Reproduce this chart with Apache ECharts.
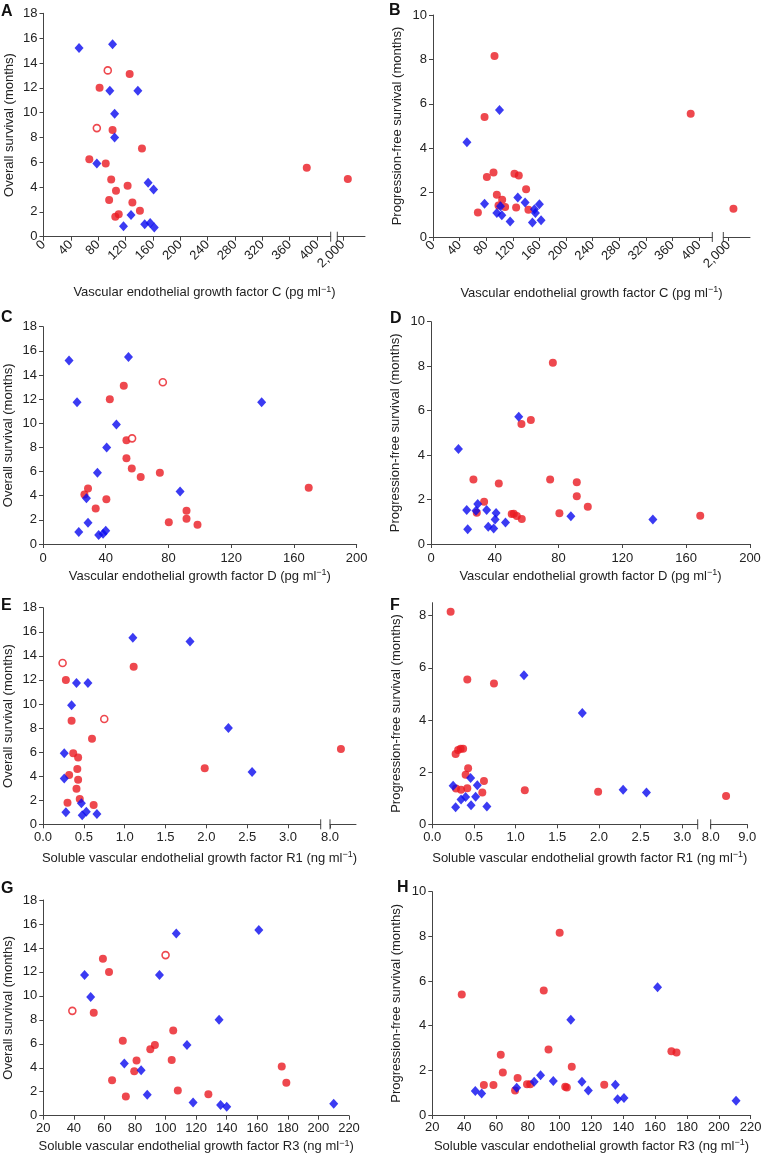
<!DOCTYPE html>
<html>
<head>
<meta charset="utf-8">
<script src="https://cdn.jsdelivr.net/npm/echarts@6/dist/echarts.min.js"></script>
<style>
html,body{margin:0;padding:0;background:#fff;}
#chart{width:763px;height:1154px;}
</style>
</head>
<body>
<div id="chart"></div>
<script>
// ---------- DATA (x value, y value) ----------
// A: VEGF-C vs overall survival
const aBlue = [[52,15.2],[101,15.5],[97,11.75],[138,11.75],[104,9.9],[104,8.0],[78,5.9],[153,4.35],[161,3.8],[128,1.75],[117,0.85],[148,1.0],[156,1.1],[162,0.75]];
const aRed = [[126,13.1],[82,12.0],[101,8.6],[144,7.1],[67,6.25],[91,5.9],[385,5.55],[2090,4.65],[99,4.6],[123,4.1],[106,3.7],[96,2.95],[130,2.75],[141,2.1],[110,1.8],[105,1.6]];
const aOpen = [[94,13.4],[78,8.75]];
// B: VEGF-C vs progression-free survival
const bBlue = [[51,4.27],[100,5.72],[77.5,1.5],[96,1.08],[101.5,1.38],[103.5,0.98],[116,0.7],[127.5,1.78],[138.5,1.55],[152.5,1.25],[154,1.08],[160,1.48],[149.5,0.65],[162.5,0.75]];
const bRed = [[92.5,8.15],[77.5,5.4],[387.5,5.55],[81,2.7],[91,2.9],[122.5,2.85],[129,2.77],[140,2.15],[96,1.9],[104,1.68],[98.5,1.42],[108.5,1.35],[125,1.33],[143.5,1.23],[67.5,1.1],[2090,1.27]];
// C: VEGF-D vs overall survival
const cBlue = [[16.6,15.2],[54.5,15.5],[21.7,11.75],[139.4,11.75],[46.8,9.9],[40.6,8.0],[34.7,5.9],[87.4,4.35],[27.7,3.8],[28.7,1.75],[22.8,1.0],[35.5,0.75],[38.3,0.85],[40,1.1]];
const cRed = [[51.5,13.1],[42.6,12.0],[53.2,8.6],[53.2,7.1],[56.6,6.25],[74.5,5.9],[62.3,5.55],[169.4,4.65],[28.7,4.6],[26.4,4.1],[40.4,3.7],[33.6,2.95],[91.5,2.75],[91.5,2.1],[80.2,1.8],[98.5,1.6]];
const cOpen = [[76.4,13.4],[56.8,8.75]];
// D: VEGF-D vs progression-free survival
const dBlue = [[17.2,4.27],[55,5.72],[22.4,1.53],[23,0.66],[28.2,1.5],[29.3,1.8],[34.9,1.53],[35.9,0.78],[39.3,0.7],[40.8,1.4],[40.2,1.1],[46.7,0.97],[87.7,1.25],[139.1,1.1]];
const dRed = [[76.4,8.15],[62.6,5.58],[56.7,5.4],[26.6,2.9],[42.5,2.72],[74.7,2.9],[91.4,2.78],[91.4,2.15],[33.3,1.9],[98.3,1.68],[28.7,1.41],[80.5,1.38],[50.6,1.35],[51.9,1.36],[53.8,1.26],[56.9,1.12],[168.8,1.27]];
// E: sVEGFR1 vs overall survival
const eBlue = [[1.1,15.5],[1.8,15.2],[0.41,11.75],[0.55,11.75],[0.35,9.9],[2.27,8.0],[0.26,5.9],[2.56,4.35],[0.26,3.8],[0.47,1.75],[0.28,1.0],[0.48,0.75],[0.53,1.05],[0.66,0.85]];
const eRed = [[1.11,13.1],[0.28,12.0],[0.35,8.6],[0.6,7.1],[8.42,6.25],[0.37,5.9],[0.43,5.55],[1.98,4.65],[0.42,4.6],[0.32,4.1],[0.43,3.7],[0.41,2.95],[0.45,2.1],[0.3,1.8],[0.62,1.6]];
const eOpen = [[0.24,13.4],[0.75,8.75]];
// F: sVEGFR1 vs progression-free survival
const fBlue = [[1.1,5.72],[1.8,4.27],[0.25,1.48],[0.46,1.78],[0.54,1.5],[0.28,0.65],[0.345,0.95],[0.4,1.05],[0.52,1.06],[0.465,0.73],[0.655,0.68],[2.29,1.33],[2.57,1.22]];
const fRed = [[0.22,8.15],[0.42,5.55],[0.74,5.4],[0.28,2.7],[0.31,2.85],[0.34,2.9],[0.37,2.9],[0.43,2.15],[0.4,1.9],[0.62,1.66],[0.285,1.37],[0.345,1.33],[0.42,1.38],[0.6,1.22],[1.11,1.31],[1.99,1.25],[8.42,1.09]];
// G: sVEGFR3 vs overall survival
const gBlue = [[107,15.2],[161,15.5],[47,11.75],[96,11.75],[51,9.9],[135,8.0],[114,5.9],[73,4.35],[84,3.8],[88,1.75],[118,1.1],[136,0.9],[140,0.75],[210,1.0]];
const gRed = [[59,13.1],[63,12.0],[53,8.6],[105,7.1],[72,6.25],[93,5.9],[90,5.55],[104,4.65],[81,4.6],[176,4.1],[79.5,3.7],[65,2.95],[179,2.75],[108,2.1],[128,1.8],[74,1.6]];
const gOpen = [[100,13.4],[39,8.75]];
// H: sVEGFR3 vs progression-free survival
const hBlue = [[161.5,5.72],[107,4.27],[47,1.08],[51,0.96],[73,1.22],[84,1.49],[88,1.78],[96,1.52],[114,1.49],[118,1.1],[135,1.36],[136.4,0.7],[140.4,0.76],[210.8,0.64]];
const hRed = [[100,8.16],[38.5,5.4],[90,5.58],[63,2.7],[93,2.93],[170.2,2.85],[173.4,2.8],[107.6,2.16],[64.3,1.9],[73.6,1.66],[52.4,1.34],[58.4,1.34],[72,1.1],[79.5,1.38],[81.5,1.38],[103.5,1.27],[104.5,1.23],[128,1.36]];

// tick values
const ticksVegfC = [0,40,80,120,160,200,240,280,320,360,400];
const ticksVegfCBreak = [2000];
const ticksVegfD = [0,40,80,120,160,200];
const ticksR1 = [0,0.5,1.0,1.5,2.0,2.5,3.0];
const ticksR1Break = [8.0,9.0];
const ticksR3 = [20,40,60,80,100,120,140,160,180,200,220];
const ticksOS = [0,2,4,6,8,10,12,14,16,18];
const ticksPFS = [0,2,4,6,8,10];
const ticksPFSf = [0,2,4,6,8];

// text
const nameOS = 'Overall survival (months)';
const namePFS = 'Progression-free survival (months)';
const nameC = 'Vascular endothelial growth factor C (pg ml{sup|\u22121})';
const nameD = 'Vascular endothelial growth factor D (pg ml{sup|\u22121})';
const nameR1 = 'Soluble vascular endothelial growth factor R1 (ng ml{sup|\u22121})';
const nameR3 = 'Soluble vascular endothelial growth factor R3 (ng ml{sup|\u22121})';

// ---------- LAYOUT / STYLE ----------
const FONT = '"Liberation Sans", Arial, Helvetica, sans-serif';
const TXT = '#222';
const AX = '#444';
const BLUE = '#0a0aef';
const RED = '#ea1a22';
const rich = {sup:{fontSize:9, fontFamily:FONT, color:TXT, padding:[0,0,7,0]}};

const panels = [
  {letter:'A', lp:[1,4], g:[43.5,13.3,287.2,223.4], x:[0,420], xt:ticksVegfC, rot:45, lm:6,
   brk:{left:337.3, width:27.7, min:1900, max:2400, ticks:ticksVegfCBreak, labelTicks:ticksVegfCBreak, fmt:v=>'2,000'},
   y:[0,18], yt:ticksOS, yName:nameOS, yGap:28, xName:nameC, xGap:48, xCenter:204.5,
   blue:aBlue, red:aRed, open:aOpen},
  {letter:'B', lp:[389,3], g:[433,15,279.3,222], x:[0,420], xt:ticksVegfC, rot:45, lm:6,
   brk:{left:723.3, width:26.7, min:1900, max:2400, ticks:ticksVegfCBreak, labelTicks:ticksVegfCBreak, fmt:v=>'2,000'},
   y:[0,10], yt:ticksPFS, yName:namePFS, yGap:29, xName:nameC, xGap:48, xCenter:591.5,
   blue:bBlue, red:bRed, open:[]},
  {letter:'C', lp:[1,309.5], g:[43,326.7,313.7,217.3], x:[0,200], xt:ticksVegfD, rot:0, lm:8,
   y:[0,18], yt:ticksOS, yName:nameOS, yGap:28, xName:nameD, xGap:24,
   blue:cBlue, red:cRed, open:cOpen},
  {letter:'D', lp:[390,311], g:[431,321.7,319,222.3], x:[0,200], xt:ticksVegfD, rot:0, lm:8,
   y:[0,10], yt:ticksPFS, yName:namePFS, yGap:29, xName:nameD, xGap:24,
   blue:dBlue, red:dRed, open:[]},
  {letter:'E', lp:[1,597.5], g:[43,607.7,277.7,216.6], x:[0,3.4], xt:ticksR1, rot:0, dec:1, lm:7,
   brk:{left:330, width:26, min:8, max:9, ticks:[8.0], labelTicks:[8.0], fmt:v=>v.toFixed(1)},
   y:[0,18], yt:ticksOS, yName:nameOS, yGap:28, xName:nameR1, xGap:26, xCenter:199.5,
   blue:eBlue, red:eRed, open:eOpen},
  {letter:'F', lp:[390,597.5], g:[432.3,602.7,265.4,221.6], x:[0,3.185], xt:ticksR1, rot:0, dec:1, lm:7,
   brk:{left:710.7, width:36.6, min:8, max:9, ticks:ticksR1Break, labelTicks:ticksR1Break, fmt:v=>v.toFixed(1)},
   y:[0,8.5], yt:ticksPFSf, yName:namePFS, yGap:29, xName:nameR1, xGap:26, xCenter:589.8,
   blue:fBlue, red:fRed, open:[]},
  {letter:'G', lp:[1,880.5], g:[43.3,900,305.7,215.7], x:[20,220], xt:ticksR3, rot:0, lm:6,
   y:[0,18], yt:ticksOS, yName:nameOS, yGap:28, xName:nameR3, xGap:23,
   blue:gBlue, red:gRed, open:gOpen},
  {letter:'H', lp:[397,879.5], g:[432.3,891.7,318.4,223.3], x:[20,220], xt:ticksR3, rot:0, lm:6,
   y:[0,10], yt:ticksPFS, yName:namePFS, yGap:29, xName:nameR3, xGap:23,
   blue:hBlue, red:hRed, open:[]}
];

const option = {animation:false, backgroundColor:'#fff', textStyle:{fontFamily:FONT},
  grid:[], xAxis:[], yAxis:[], series:[], graphic:[]};

function lbl(extra){return Object.assign({color:TXT, fontSize:13, fontFamily:FONT}, extra);}

function addSeries(xi, yi, blue, red, open){
  option.series.push({type:'scatter', xAxisIndex:xi, yAxisIndex:yi, data:red, symbol:'circle', symbolSize:8,
    itemStyle:{color:RED}, z:3});
  option.series.push({type:'scatter', xAxisIndex:xi, yAxisIndex:yi, data:open, symbol:'circle', symbolSize:7,
    itemStyle:{color:'#fff', borderColor:RED, borderWidth:1.6}, z:3});
  option.series.push({type:'scatter', xAxisIndex:xi, yAxisIndex:yi, data:blue, symbol:'diamond', symbolSize:[9,10],
    itemStyle:{color:BLUE}, z:4});
}

panels.forEach(p=>{
  const gi = option.grid.length;
  const [L,T,W,H] = p.g;
  option.grid.push({left:L, top:T, width:W, height:H, containLabel:false, outerBoundsMode:'none'});
  let namePad = [0,0,0,0];
  if (p.xCenter){ const sh = p.xCenter - (L + W/2); namePad = [0,0,0,2*sh]; }
  const fmt = p.dec ? (v=>v.toFixed(p.dec)) : (v=>String(v));
  option.xAxis.push({gridIndex:gi, type:'value', min:p.x[0], max:p.x[1],
    axisLine:{show:true, onZero:false, lineStyle:{color:AX, width:1}},
    axisTick:{show:true, length:4, customValues:p.xt, lineStyle:{color:AX}},
    axisLabel:{customValues:p.xt, rotate:p.rot, margin:p.lm, formatter:fmt, color:TXT, fontSize:13, fontFamily:FONT},
    splitLine:{show:false},
    name:p.xName, nameLocation:'middle', nameGap:p.xGap,
    nameTextStyle:lbl({rich:rich, padding:namePad})});
  option.yAxis.push({gridIndex:gi, type:'value', min:p.y[0], max:p.y[1],
    axisLine:{show:true, onZero:false, lineStyle:{color:AX, width:1}},
    axisTick:{show:true, length:4, customValues:p.yt, lineStyle:{color:AX}},
    axisLabel:{customValues:p.yt, margin:6, color:TXT, fontSize:13, fontFamily:FONT},
    splitLine:{show:false},
    name:p.yName, nameLocation:'middle', nameGap:p.yGap, nameTextStyle:lbl({})});
  const xi = option.xAxis.length-1, yi = option.yAxis.length-1;
  const thr = p.x[1];
  const inMain = arr => arr.filter(d=>d[0] <= thr);
  const inBrk = arr => arr.filter(d=>d[0] > thr);
  addSeries(xi, yi, inMain(p.blue), inMain(p.red), inMain(p.open));

  if (p.brk){
    const b = p.brk;
    option.grid.push({left:b.left, top:T, width:b.width, height:H, containLabel:false, outerBoundsMode:'none'});
    const gi2 = option.grid.length-1;
    option.xAxis.push({gridIndex:gi2, type:'value', min:b.min, max:b.max,
      axisLine:{show:true, onZero:false, lineStyle:{color:AX, width:1}},
      axisTick:{show:true, length:4, customValues:b.ticks, lineStyle:{color:AX}},
      axisLabel:{customValues:b.labelTicks, rotate:p.rot, margin:p.lm, formatter:b.fmt, color:TXT, fontSize:13, fontFamily:FONT},
      splitLine:{show:false}});
    option.yAxis.push({gridIndex:gi2, type:'value', min:p.y[0], max:p.y[1], show:false});
    const xi2 = option.xAxis.length-1, yi2 = option.yAxis.length-1;
    addSeries(xi2, yi2, inBrk(p.blue), inBrk(p.red), inBrk(p.open));
    // break marks
    const ay = T + H;
    [L+W, b.left].forEach(x=>{
      option.graphic.push({type:'line', silent:true, shape:{x1:x, y1:ay-5, x2:x, y2:ay+5},
        style:{stroke:AX, lineWidth:1}});
    });
  }
  option.graphic.push({type:'text', left:p.lp[0], top:p.lp[1], silent:true,
    style:{text:p.letter, font:'bold 16px '+FONT, fill:'#111'}});
});

const chart = echarts.init(document.getElementById('chart'), null, {renderer:'canvas'});
chart.setOption(option);
</script>
</body>
</html>
